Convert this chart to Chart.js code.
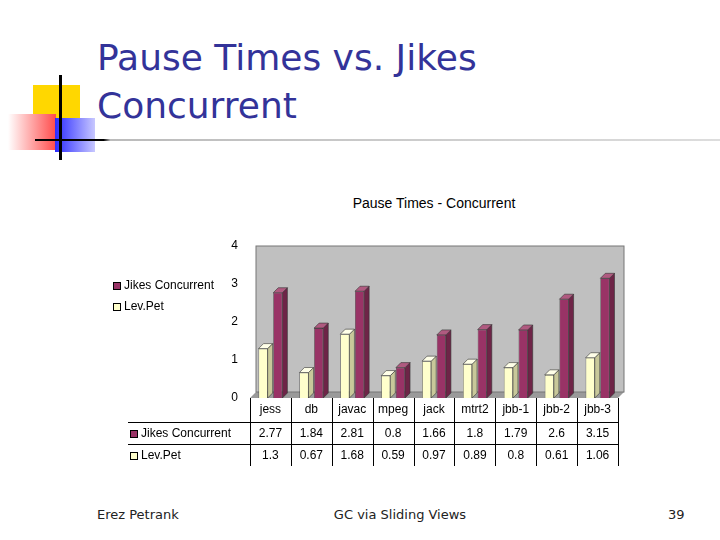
<!DOCTYPE html>
<html><head><meta charset="utf-8">
<script src="https://cdn.jsdelivr.net/npm/chart.js@4/dist/chart.umd.min.js"></script>
<style>
body{margin:0;width:720px;height:540px;background:#fff;position:relative;overflow:hidden;font-family:"DejaVu Sans",sans-serif}
.a{position:absolute}
</style></head><body>
<div class="a" style="left:33px;top:85px;width:47px;height:36px;background:#ffd700"></div>
<div class="a" style="left:8px;top:114px;width:48px;height:36px;background:linear-gradient(90deg,#fff,#ff4b4b)"></div>
<div class="a" style="left:55px;top:118px;width:40px;height:34px;background:linear-gradient(90deg,#2b2bff,#c8c8ff)"></div>
<div class="a" style="left:59px;top:75px;width:3px;height:85px;background:#000"></div>
<div class="a" style="left:35px;top:139px;width:685px;height:2px;background:linear-gradient(90deg,#000 0,#000 10%,#bbb 11%,#ddd)"></div>
<div class="a" style="left:97px;top:34px;font-size:36px;line-height:48px;color:#333399">Pause Times vs. Jikes<br>Concurrent</div>
<div class="a" style="left:234px;top:195px;width:400px;text-align:center;font:14px 'Liberation Sans',Arial">Pause Times - Concurrent</div>
<div class="a" style="left:97px;top:507px;font-size:13px;color:#222">Erez Petrank</div>
<div class="a" style="left:300px;top:507px;width:200px;text-align:center;font-size:13px;color:#222">GC via Sliding Views</div>
<div class="a" style="left:668px;top:507px;font-size:13px;color:#222">39</div>
<div class="a" style="left:100px;top:190px;width:530px;height:285px"><canvas id="c"></canvas></div>
<script>
const categories = ["jess","db","javac","mpeg","jack","mtrt2","jbb-1","jbb-2","jbb-3"];
const jikes = [2.77,1.84,2.81,0.8,1.66,1.8,1.79,2.6,3.15];
const levpet = [1.3,0.67,1.68,0.59,0.97,0.89,0.8,0.61,1.06];
const yTicks = [0,1,2,3,4];
const seriesNames = ["Jikes Concurrent","Lev.Pet"];
const colors = ["#993366","#ffffcc"];

function shade(ctx,el,col,side){
  const w=el.width, x=el.x-w/2, y=el.y, b=el.base, d=5;
  ctx.fillStyle=side; ctx.strokeStyle="#333"; ctx.lineWidth=0.6;
  ctx.beginPath();ctx.moveTo(x+w,y);ctx.lineTo(x+w+d,y-d);ctx.lineTo(x+w+d,b-d);ctx.lineTo(x+w,b);ctx.closePath();ctx.fill();ctx.stroke();
  ctx.fillStyle=col;
  ctx.beginPath();ctx.moveTo(x,y);ctx.lineTo(x+d,y-d);ctx.lineTo(x+w+d,y-d);ctx.lineTo(x+w,y);ctx.closePath();ctx.fill();ctx.stroke();
}
const deco = {
  id:"deco",
  beforeDatasetsDraw(ch){
    const c=ch.ctx,a=ch.chartArea;
    c.save();
    c.fillStyle="#c0c0c0";c.fillRect(a.left+6,a.top,a.right-a.left,a.bottom-a.top-6);
    c.fillStyle="#9a9a9a";
    c.beginPath();c.moveTo(a.left,a.bottom);c.lineTo(a.left+6,a.bottom-6);c.lineTo(a.right+6,a.bottom-6);c.lineTo(a.right,a.bottom);c.fill();
    c.strokeStyle="#777";c.strokeRect(a.left+6,a.top,a.right-a.left,a.bottom-a.top-6);
    c.restore();
  },
  afterDatasetsDraw(ch){
    const c=ch.ctx;
    c.save();
    ch.getDatasetMeta(0).data.forEach(e=>shade(c,e,"#ffffe8","#c8c89a"));
    ch.getDatasetMeta(1).data.forEach(e=>shade(c,e,"#b05a80","#6e2447"));
    c.restore();
  },
  afterDraw(ch){
    const c=ch.ctx,a=ch.chartArea,xs=ch.scales.x,ys=ch.scales.y;
    c.save();
    c.font="12px 'Liberation Sans',Arial";c.fillStyle="#000";
    c.textAlign="right";c.textBaseline="middle";
    yTicks.forEach(t=>c.fillText(t,a.left-12,ys.getPixelForValue(t)));
    const step=(a.right-a.left)/categories.length;
    c.textAlign="center";
    categories.forEach((k,i)=>{
      const x=xs.getPixelForValue(i);
      c.fillText(k,x,a.bottom+12);
      c.fillText(jikes[i],x,a.bottom+36);
      c.fillText(levpet[i],x,a.bottom+58);
    });
    c.strokeStyle="#000";c.lineWidth=1;
    for(let i=0;i<=categories.length;i++){
      const x=Math.round(a.left+i*step)+0.5;
      c.beginPath();c.moveTo(x,a.bottom);c.lineTo(x,a.bottom+68);c.stroke();
    }
    [a.bottom+24,a.bottom+46].forEach(y=>{c.beginPath();c.moveTo(28,y+.5);c.lineTo(a.right,y+.5);c.stroke();});
    c.textAlign="left";
    const rows=[[30,a.bottom+36,0],[30,a.bottom+58,1],[13,96,0],[13,117,1]];
    rows.forEach(([x0,y,s])=>{
      c.fillStyle=colors[s];c.strokeStyle="#000";
      c.fillRect(x0,y-4,7,7);c.strokeRect(x0+.5,y-3.5,7,7);
      c.fillStyle="#000";
      c.fillText(seriesNames[s],x0+11,y);
    });
    c.restore();
  }
};
new Chart(document.getElementById("c"),{
  type:"bar",
  data:{labels:categories,datasets:[
    {label:seriesNames[1],data:levpet,backgroundColor:colors[1],borderColor:"#333",borderWidth:0.6,barPercentage:0.62,categoryPercentage:0.72},
    {label:seriesNames[0],data:jikes,backgroundColor:colors[0],borderColor:"#333",borderWidth:0.6,barPercentage:0.62,categoryPercentage:0.72}
  ]},
  options:{
    responsive:true,maintainAspectRatio:false,animation:false,
    layout:{padding:{left:150,right:12,top:56,bottom:77}},
    plugins:{legend:{display:false},tooltip:{enabled:false}},
    scales:{
      x:{grid:{display:false,drawTicks:false},border:{display:false},ticks:{display:false}},
      y:{min:0,max:4,grid:{color:"#000",lineWidth:0,drawTicks:false},border:{display:false},ticks:{display:false,stepSize:1}}
    }
  },
  plugins:[deco]
});
</script>
</body></html>
